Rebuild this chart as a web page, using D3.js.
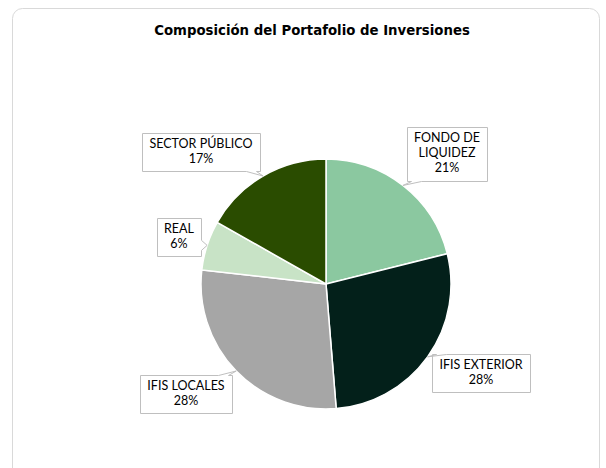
<!DOCTYPE html>
<html>
<head>
<meta charset="utf-8">
<script src="https://cdn.jsdelivr.net/npm/d3@7"></script>
<style>
  body { margin: 0; background: #fff; }
  .title { font-family: 'DejaVu Sans', Verdana, sans-serif; font-weight: bold; font-size: 13.3px; fill: #000; }
  .lbl { font-family: Lato, 'Open Sans', sans-serif; font-size: 12.5px; fill: #000; }
  .callout { fill: #fff; stroke: #bfbfbf; stroke-width: 1; }
  .slice { stroke: #fff; stroke-width: 1.5; }
</style>
</head>
<body>
<svg id="chart" width="606" height="468"></svg>
<script>
// data, clockwise from 12 o'clock
const categories = ['FONDO DE LIQUIDEZ', 'IFIS EXTERIOR', 'IFIS LOCALES', 'REAL', 'SECTOR PÚBLICO'];
const values = [21.1, 27.6, 28.1, 6.4, 16.8];
const labelLines = [['FONDO DE', 'LIQUIDEZ'], ['IFIS EXTERIOR'], ['IFIS LOCALES'], ['REAL'], ['SECTOR PÚBLICO']];
const colors = ['#8bc8a0', '#03201a', '#a6a6a6', '#c8e3c6', '#2a4c00'];

const svg = d3.select('#chart');

// card
svg.append('rect')
  .attr('x', 12.5).attr('y', 8.5)
  .attr('width', 587).attr('height', 520)
  .attr('rx', 10)
  .attr('fill', '#fff').attr('stroke', '#d9d9d9');

svg.append('text')
  .attr('class', 'title')
  .attr('x', 312).attr('y', 35)
  .attr('text-anchor', 'middle')
  .text('Composición del Portafolio de Inversiones');

const cx = 326, cy = 284, r = 125;
const total = d3.sum(values);
const fmt = d3.format('.0%');

const data = categories.map((c, i) => ({ name: c, value: values[i], lines: labelLines[i], color: colors[i] }));
const pie = d3.pie().sort(null).value(d => d.value);
const arcs = pie(data);
const arc = d3.arc().innerRadius(0).outerRadius(r);

const g = svg.append('g').attr('transform', 'translate(' + cx + ',' + cy + ')');

g.selectAll('.slice')
  .data(arcs)
  .enter()
  .append('path')
  .attr('class', 'slice')
  .attr('d', arc)
  .attr('fill', d => d.data.color);

// callout with a wedge pointing to the slice edge
function calloutPath(x0, y0, x1, y1, ax, ay, side) {
  const w = 10;
  let p = 'M' + x0 + ',' + y0;
  if (side === 'top') {
    const b = ax < (x0 + x1) / 2 ? x0 + 4 : x1 - 4 - w;
    p += 'H' + b + 'L' + ax + ',' + ay + 'L' + (b + w) + ',' + y0;
  }
  p += 'H' + x1;
  if (side === 'right') {
    const b = Math.max(y0 + 3, Math.min(ay - w / 2, y1 - 3 - w));
    p += 'V' + b + 'L' + ax + ',' + ay + 'L' + x1 + ',' + (b + w);
  }
  p += 'V' + y1;
  if (side === 'bottom') {
    const b = ax < (x0 + x1) / 2 ? x0 + 4 + w : x1 - 4;
    p += 'H' + b + 'L' + ax + ',' + ay + 'L' + (b - w) + ',' + y1;
  }
  p += 'H' + x0;
  if (side === 'left') {
    const b = Math.max(y0 + 3 + w, Math.min(ay + w / 2, y1 - 3));
    p += 'V' + b + 'L' + ax + ',' + ay + 'L' + x0 + ',' + (b - w);
  }
  return p + 'Z';
}

const lineH = 15, padX = 7, padY = 4;
const labels = svg.append('g');

arcs.forEach(d => {
  const mid = (d.startAngle + d.endAngle) / 2;
  const dx = Math.sin(mid), dy = -Math.cos(mid);
  const ax = cx + r * dx, ay = cy + r * dy;

  const lines = d.data.lines.concat([fmt(d.data.value / total)]);
  const lg = labels.append('g');
  const path = lg.append('path').attr('class', 'callout');
  const txt = lg.append('text').attr('class', 'lbl').attr('text-anchor', 'middle');
  lines.forEach((t, i) => txt.append('tspan').attr('x', 0).attr('dy', i ? lineH : 0).text(t));

  const tw = txt.node().getBBox().width;
  const hw = Math.round(tw / 2 + padX);
  const hh = Math.round((lines.length * lineH + 2 * padY) / 2);

  const sx = dx < 0 ? -1 : 1;
  const sideways = Math.abs(dy) < 0.4;
  const sy = sideways ? 0 : (dy < 0 ? -1 : 1);
  const gap = 6;
  const bx = Math.round(ax + sx * hw + dx * gap);
  // side labels sit a little above their anchor, lower-half labels sit higher
  const by = sideways
    ? Math.round(ay - hh * 0.45)
    : Math.round(ay + sy * hh + dy * gap - (sy > 0 && sx > 0 ? 6 : 0));

  let side;
  if (sideways) side = sx < 0 ? 'right' : 'left';
  else side = sy < 0 ? 'bottom' : 'top';

  const x0 = bx - hw + 0.5, x1 = bx + hw + 0.5, y0 = by - hh + 0.5, y1 = by + hh + 0.5;
  path.attr('d', calloutPath(x0, y0, x1, y1, ax, ay, side));
  txt.attr('transform', 'translate(' + bx + ',' + (by - hh + padY + 11) + ')');
});
</script>
</body>
</html>
